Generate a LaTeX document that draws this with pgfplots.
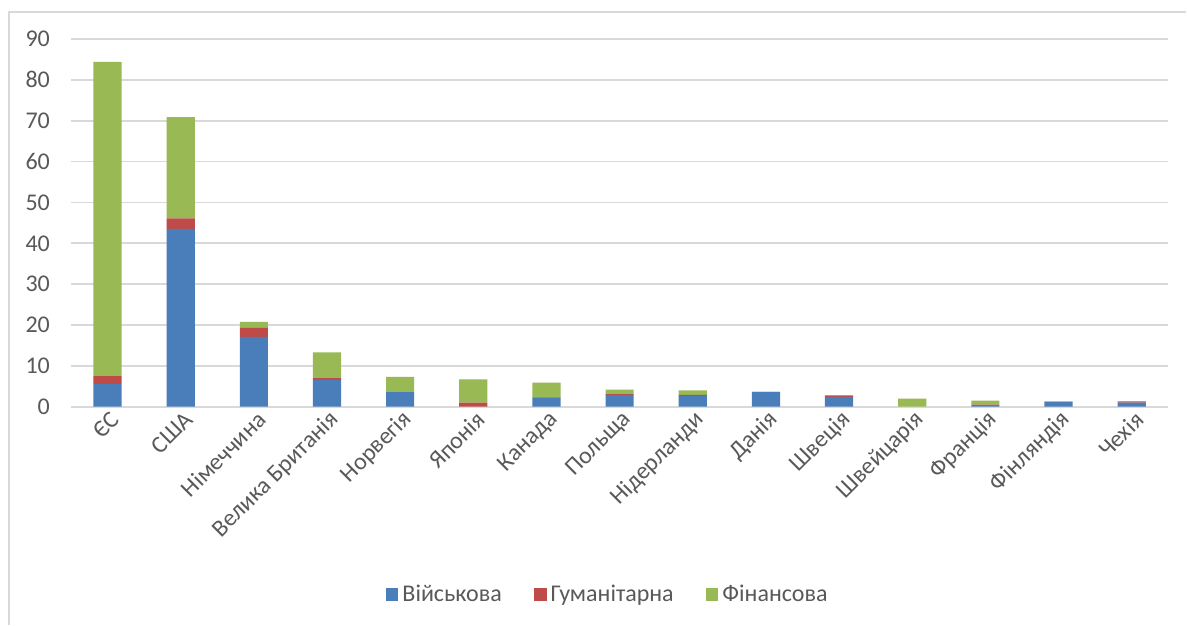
\documentclass[border=0pt]{standalone}
\usepackage{pgfplots}
\pgfplotsset{compat=1.18}
\usepackage{fontspec}
\setmainfont{Carlito}

\definecolor{mil}{HTML}{4A7EBB}
\definecolor{hum}{HTML}{BE4B48}
\definecolor{fin}{HTML}{98B954}
\definecolor{gridc}{HTML}{D9D9D9}
\definecolor{txt}{HTML}{595959}

\begin{document}
\begin{tikzpicture}[x=1pt,y=1pt]
% page frame: 1187 x 625 px at 0.5pt per px
\path[fill=white] (0,0) rectangle (593.5,312.5);
\draw[gridc, line width=0.75pt] (4.5,0) -- (4.5,306.5) -- (593.5,306.5);

\begin{axis}[
    at={(35.5pt,109pt)}, anchor=south west,
    scale only axis,
    width=549pt, height=184pt,
    ybar stacked,
    bar width=0.385,
    xmin=-0.5, xmax=14.5,
    ymin=0, ymax=90,
    ytick={0,10,...,90},
    xtick={0,...,14},
    xticklabels={ЄС,США,Німеччина,Велика Британія,Норвегія,Японія,Канада,Польща,Нідерланди,Данія,Швеція,Швейцарія,Франція,Фінляндія,Чехія},
    xticklabel style={rotate=45, anchor=east, font=\fontsize{12}{14}\selectfont, text=txt, xshift=3pt, yshift=-6pt},
    yticklabel style={font=\fontsize{12}{14}\selectfont, text=txt, xshift=-7pt},
    /pgf/number format/assume math mode=true,
    axis line style={draw=none},
    tick style={draw=none},
    ymajorgrids,
    grid style={gridc, line width=0.9pt},
    legend style={at={(0.49,-0.511)}, anchor=center, draw=none,
        legend columns=-1, font=\fontsize{12}{14}\selectfont, text=txt,
        /tikz/every even column/.append style={column sep=14pt}},
    legend image code/.code={\fill[#1] (0pt,-3.2pt) rectangle (6.4pt,3.2pt);},
]
\addplot[fill=mil, draw=none] coordinates {
    (0,5.6) (1,43.5) (2,17.1) (3,6.6) (4,3.6) (5,0.0) (6,2.2) (7,2.9)
    (8,2.6) (9,3.6) (10,2.4) (11,0.0) (12,0.4) (13,1.2) (14,1.0)};
\addplot[fill=hum, draw=none] coordinates {
    (0,2.0) (1,2.6) (2,2.2) (3,0.4) (4,0.1) (5,1.0) (6,0.1) (7,0.2)
    (8,0.3) (9,0.0) (10,0.4) (11,0.0) (12,0.1) (13,0.0) (14,0.3)};
\addplot[fill=fin, draw=none] coordinates {
    (0,76.8) (1,24.8) (2,1.5) (3,6.3) (4,3.6) (5,5.7) (6,3.6) (7,1.1)
    (8,1.1) (9,0.1) (10,0.0) (11,2.0) (12,1.0) (13,0.1) (14,0.0)};
\legend{Військова,Гуманітарна,Фінансова}
\end{axis}
\end{tikzpicture}
\end{document}
